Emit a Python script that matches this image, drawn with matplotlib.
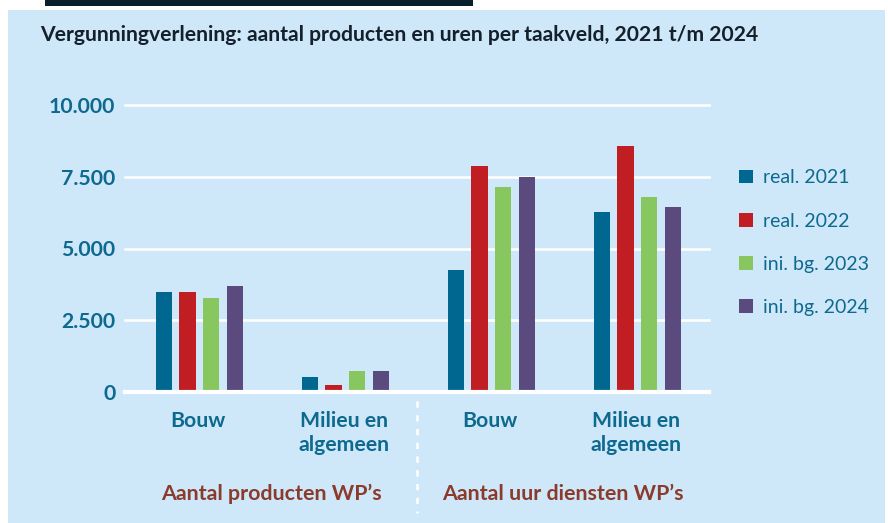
import numpy as np
import matplotlib.pyplot as plt
from matplotlib.patches import Rectangle
from matplotlib.transforms import blended_transform_factory

plt.rcParams["font.family"] = ["Lato", "DejaVu Sans"]

BG = "#cfe8f9"
BLUE_TXT = "#0d6a8e"
BROWN = "#8a3b2c"

categories = ["Bouw", "Milieu en\nalgemeen", "Bouw", "Milieu en\nalgemeen"]
groups = ["Aantal producten WP\u2019s", "Aantal uur diensten WP\u2019s"]
series = ["real. 2021", "real. 2022", "ini. bg. 2023", "ini. bg. 2024"]
colors = ["#006890", "#c01e23", "#88c660", "#5b4a7e"]
values = [
    [3500, 520, 4250, 6280],   # real. 2021
    [3500, 240, 7860, 8560],   # real. 2022
    [3260, 730, 7160, 6810],   # ini. bg. 2023
    [3710, 730, 7480, 6460],   # ini. bg. 2024
]
yticks = [0, 2500, 5000, 7500, 10000]
ytick_labels = ["0", "2.500", "5.000", "7.500", "10.000"]

W, H = 888, 523
fig = plt.figure(figsize=(W / 100, H / 100), dpi=100, facecolor="white")

# achtergrondpaneel + donkere balk bovenaan (uitsnede document)
fig.patches.append(Rectangle((8 / W, 0), 877 / W, 1 - 10 / H, transform=fig.transFigure,
                             facecolor=BG, edgecolor="none", zorder=-5))
fig.patches.append(Rectangle((45 / W, 1 - 6 / H), 428 / W, 6 / H, transform=fig.transFigure,
                             facecolor="#0a1f2c", edgecolor="none", zorder=-5))

ax = fig.add_axes([125 / W, (H - 392) / H, 584 / W, 287 / H])
ax.set_facecolor("none")

x = np.arange(len(categories))
bw, step = 0.11, 0.164
for i, (name, col) in enumerate(zip(series, colors)):
    ax.bar(x + (i - 1.5) * step + 0.01, values[i], width=bw, color=col, label=name, zorder=3)

ax.set_xlim(-0.5, 3.5)
ax.set_ylim(0, 10000)
for v in yticks[1:]:
    ax.axhline(v, color="white", lw=1.8, zorder=1, clip_on=False)
ax.axhline(0, color="white", lw=3, zorder=4, clip_on=False)

ax.set_yticks(yticks)
ax.set_yticklabels(ytick_labels, color=BLUE_TXT, fontsize=15.3, fontweight="bold")
ax.set_xticks(x)
ax.set_xticklabels(categories, color=BLUE_TXT, fontsize=15.3, fontweight="bold",
                   linespacing=1.22, va="top")
ax.tick_params(axis="y", length=0, pad=7)
ax.tick_params(axis="x", length=0, pad=14)
for sp in ax.spines.values():
    sp.set_visible(False)

# groepslabels + scheidingslijn
tr = blended_transform_factory(ax.transData, ax.transAxes)
ax.text(0.5, -0.355, groups[0], transform=tr, ha="center", va="center",
        color=BROWN, fontsize=15.4, fontweight="bold")
ax.text(2.5, -0.355, groups[1], transform=tr, ha="center", va="center",
        color=BROWN, fontsize=15.4, fontweight="bold")
ax.plot([1.5, 1.5], [-0.03, -0.42], transform=tr, color="white", lw=1.8,
        ls=(0, (2.5, 3)), clip_on=False)

ax.legend(loc="upper left", bbox_to_anchor=(1.035, 0.81), frameon=False,
          handlelength=0.7, handleheight=0.7, handletextpad=0.55,
          labelspacing=1.35, fontsize=14, labelcolor=BLUE_TXT, borderpad=0)

fig.text(40 / W, 1 - 35 / H, "Vergunningverlening: aantal producten en uren per taakveld, 2021 t/m 2024",
         ha="left", va="center", fontsize=15.2, fontweight="bold", color="#14202b")

fig.savefig("out.png", dpi=100, facecolor="white")
